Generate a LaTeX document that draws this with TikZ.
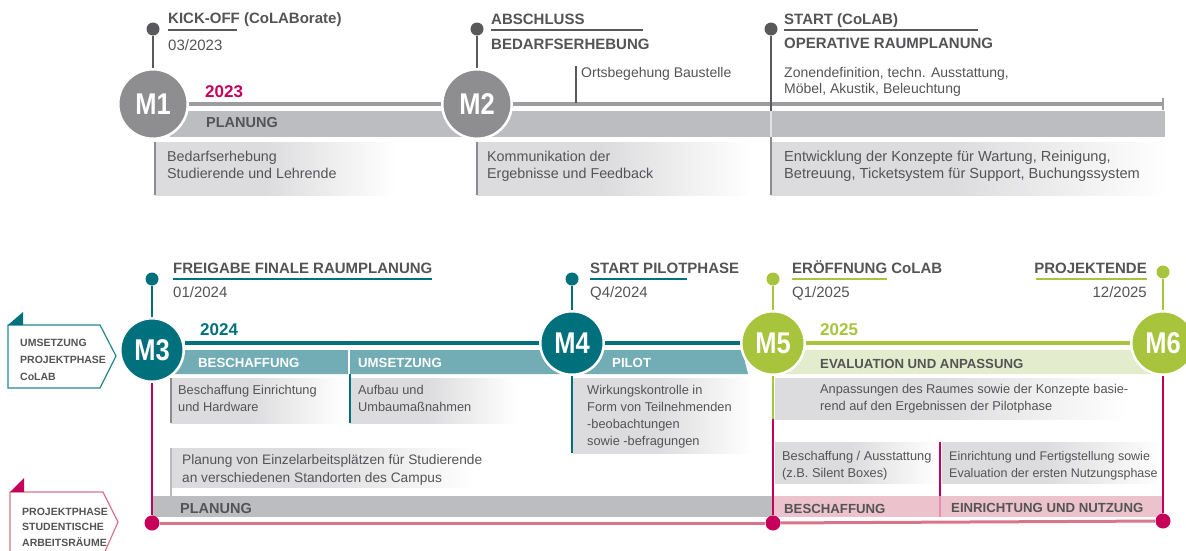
\documentclass[tikz,border=0pt]{standalone}
\usepackage{fontspec}
\setmainfont{Liberation Sans}
\newfontfamily\msfont[FakeStretch=0.85]{Liberation Sans}
\usepackage{tikz}
\usetikzlibrary{positioning}
\usetikzlibrary{calc}

\definecolor{txtgray}{HTML}{545456}
\definecolor{msgray}{HTML}{8E8E90}
\definecolor{linegray}{HTML}{9D9D9F}
\definecolor{bargray}{HTML}{BCBDC0}
\definecolor{boxgray}{HTML}{DCDCDE}
\definecolor{pingray}{HTML}{59595B}
\definecolor{rulegray}{HTML}{8C8C8E}
\definecolor{tealdark}{HTML}{00717C}
\definecolor{tealbar}{HTML}{72ADB6}
\definecolor{greenms}{HTML}{A7C43C}
\definecolor{greenbar}{HTML}{E3ECCC}
\definecolor{magms}{HTML}{C6005A}
\definecolor{pinkln}{HTML}{D8758A}
\definecolor{pinkbar}{HTML}{ECC2CC}

\pgfdeclarehorizontalshading{descfade}{100bp}{color(0bp)=(boxgray); color(25bp)=(boxgray); color(48bp)=(boxgray); color(75bp)=(white); color(100bp)=(white)}

\tikzstyle{milestone}=[circle,draw=white,line width=2.5pt,text=white,inner sep=0pt,font=\msfont\bfseries\fontsize{30}{30}\selectfont]
\tikzstyle{bigms}=[milestone,minimum size=69.5pt]
\tikzstyle{smallms}=[milestone,minimum size=63.5pt]
\tikzstyle{pindot}=[circle,inner sep=0pt,minimum size=13pt]
\tikzstyle{enddot}=[circle,inner sep=0pt,minimum size=15pt,fill=magms]
\tikzstyle{headtxt}=[anchor=base west,inner sep=0pt,text=txtgray,font=\bfseries\fontsize{15}{18}\selectfont]
\tikzstyle{datetxt}=[anchor=base west,inner sep=0pt,text=txtgray,font=\fontsize{15}{18}\selectfont]
% multi-line texts: the given point is the baseline of the last line
\tikzstyle{desctxt}=[anchor=base west,inner sep=0pt,align=left,text=txtgray,font=\fontsize{14.3}{17}\selectfont]
\tikzstyle{smalltxt}=[anchor=base west,inner sep=0pt,align=left,text=txtgray,font=\fontsize{12.8}{17}\selectfont]
\tikzstyle{yeartxt}=[anchor=base west,inner sep=0pt,font=\bfseries\fontsize{17}{20}\selectfont]
\tikzstyle{barlabel}=[anchor=base west,inner sep=0pt,text=txtgray,font=\bfseries\fontsize{13.2}{16}\selectfont]
\tikzstyle{bigbarlabel}=[anchor=base west,inner sep=0pt,text=txtgray,font=\bfseries\fontsize{14.5}{16}\selectfont]
\tikzstyle{sidelabel}=[anchor=base west,inner sep=0pt,align=left,text=txtgray,font=\bfseries\fontsize{10.5}{17}\selectfont]
\tikzstyle{tline}=[draw,linegray,line width=3.4pt]
\tikzstyle{pinline}=[draw,pingray,line width=2.6pt]
\tikzstyle{uline}=[draw,line width=1.6pt]
\tikzstyle{boxrule}=[draw,line width=2.5pt]

\begin{document}
\begin{tikzpicture}[x=1pt,y=-1pt]
    \useasboundingbox (0,0) rectangle (1186,550);

    %%% 2023 -- top timeline
    % bar and text boxes first
    \fill[bargray] (170,111) rectangle (1165,137);
    \shade[shading=descfade] (155,142) rectangle (395,195);
    \shade[shading=descfade] (477,142) rectangle (752,195);
    \shade[shading=descfade] (771,142) rectangle (1168,195);
    \draw[boxrule,rulegray] (155,142) -- (155,195);
    \draw[boxrule,rulegray] (477,142) -- (477,195);
    \draw[boxrule,rulegray] (771,137) -- (771,195);

    % milestones
    \node[bigms,fill=msgray] (M1) at (153,104) {M1};
    \node[bigms,fill=msgray] (M2) at (477,104) {M2};
    \coordinate (tEnd) at (1163,104);
    \draw[tline] (M1) -- (M2);
    \draw[tline] (M2) -- (tEnd);
    \draw[tline,line width=2.2pt] ([yshift=6pt]tEnd) -- ([yshift=-6pt]tEnd);

    % pins
    \foreach \pos/\name/\ms in {{(153,29)/k1/M1}, {(477,29)/k2/M2}}
        {\node[pindot,fill=pingray] (\name) at \pos {};
         \draw[pinline] (\name) -- (\ms);}
    \node[pindot,fill=pingray] (k3) at (771,29) {};
    \coordinate (k3end) at (771,111);
    \draw[pinline] (k3) -- (k3end);
    \draw[white!55!bargray,line width=2pt] (771,111) -- (771,137);
    \coordinate (o1) at (576,66);
    \coordinate (o2) at (576,103);
    \draw[pinline,line width=1.6pt] (o1) -- (o2);

    % labels
    \node[headtxt] (h1) at (168,23) {KICK-OFF (CoLABorate)};
    \draw[uline,pingray] (h1.base west) ++(0,7) -- ++(69,0);
    \node[datetxt] (d1) at (168,50) {03/2023};
    \node[headtxt] (h2) at (491,24) {ABSCHLUSS};
    \draw[uline,pingray] (h2.base west) ++(0,6) -- ++(152,0);
    \node[headtxt] (h2b) at (491,49) {BEDARFSERHEBUNG};
    \node[desctxt,font=\fontsize{14}{17}\selectfont] (t2) at (581,77) {Ortsbegehung Baustelle};
    \node[headtxt] (h3) at (784,24) {START (CoLAB)};
    \draw[uline,pingray] (h3.base west) ++(0,6) -- ++(194,0);
    \node[headtxt] (h3b) at (784,48) {OPERATIVE RAUMPLANUNG};
    \node[desctxt,font=\fontsize{14}{16}\selectfont] (t3) at (784,93) {Zonendefinition, techn. Ausstattung,\\Möbel, Akustik, Beleuchtung};

    \node[yeartxt,text=magms] (y1) at (205,97) {2023};
    \node[bigbarlabel] (p1) at (206,127) {PLANUNG};
    \node[desctxt] (b1) at (167,178) {Bedarfserhebung\\Studierende und Lehrende};
    \node[desctxt] (b2) at (487,178) {Kommunikation der\\Ergebnisse und Feedback};
    \node[desctxt,font=\fontsize{14.6}{17}\selectfont] (b3) at (784,178) {Entwicklung der Konzepte für Wartung, Reinigung,\\Betreuung, Ticketsystem für Support, Buchungssystem};

    %%% 2024/2025 -- bottom timeline
    % bars
    \fill[tealbar] (172,350) -- (742,350) -- (748,374) -- (172,374) -- cycle;
    \draw[white,line width=2.5pt] (349,350) -- (349,374);
    \fill[greenbar] (792,350) -- (1166,350) -- (1166,374) -- (782,374) -- cycle;
    \fill[bargray] (152,496) rectangle (773,517);
    \fill[pinkbar] (773,496) rectangle (1163,517);

    % text boxes
    \shade[shading=descfade] (171,378) rectangle (343,423);
    \shade[shading=descfade] (350,378) rectangle (517,423);
    \shade[shading=descfade] (573,378) rectangle (752,453);
    \shade[shading=descfade] (171,448) rectangle (475,487);
    \shade[shading=descfade] (775,378) rectangle (1127,419);
    \shade[shading=descfade] (775,442) rectangle (938,483);
    \shade[shading=descfade] (942,442) rectangle (1163,483);
    \draw[boxrule,rulegray] (171,378) -- (171,423);
    \draw[boxrule,tealdark] (350,374) -- (350,423);
    \draw[boxrule,rulegray!60] (171,448) -- (171,496);
    \draw[boxrule,magms] (940,442) -- (940,496);
    \draw[magms!25!pinkbar,line width=2pt] (940,496) -- (940,517);

    % milestones
    \node[smallms,fill=tealdark] (M3) at (152,350) {M3};
    \node[smallms,fill=tealdark] (M4) at (572,343) {M4};
    \node[smallms,fill=greenms] (M5) at (773,343) {M5};
    \node[smallms,fill=greenms] (M6) at (1163,343) {M6};

    \draw[line width=3.3pt,tealdark] (M3.east |- M4) -- (M4);
    \draw[line width=3.3pt,tealdark] (M4) -- (M5);
    \draw[line width=3.3pt,greenms] (M5) -- (M6);

    % pins
    \foreach \pos/\name/\ms/\col in {{(152,279)/k4/M3/tealdark}, {(572,279)/k5/M4/tealdark}, {(773,279)/k6/M5/greenms}, {(1163,272)/k7/M6/greenms}}
        {\node[pindot,fill=\col] (\name) at \pos {};
         \draw[line width=2.6pt,\col] (\name) -- (\ms);}

    % vertical lines down to the end dots
    \node[enddot] (e3) at (152,523) {};
    \node[enddot] (e5) at (773,523) {};
    \node[enddot] (e6) at (1163,521) {};
    \coordinate (w4) at (572,453);
    \coordinate (s5) at (773,419);
    \draw[line width=2.5pt,tealdark] (M4) -- (w4);
    \draw[line width=2.5pt,magms] (M3) -- (e3);
    \draw[line width=2.5pt,greenms] (M5) -- (s5);
    \draw[line width=2.5pt,magms] (s5) -- (e5);
    \draw[line width=2.5pt,magms] (M6) -- (e6);
    \draw[line width=3pt,pinkln] (e3) -- (e5);
    \draw[line width=3pt,pinkln] (e5) -- (e6);

    % labels
    \node[headtxt] (h4) at (173,273) {FREIGABE FINALE RAUMPLANUNG};
    \draw[uline,tealdark,line width=2pt] (h4.base west) ++(0,6) -- ++(259,0);
    \node[datetxt] (d4) at (173,297) {01/2024};
    \node[headtxt] (h5) at (590,273) {START PILOTPHASE};
    \draw[uline,tealdark,line width=2pt] (h5.base west) ++(0,6) -- ++(97,0);
    \node[datetxt] (d5) at (590,297) {Q4/2024};
    \node[headtxt] (h6) at (792,273) {ERÖFFNUNG CoLAB};
    \draw[uline,greenms,line width=2pt] (h6.base west) ++(0,6) -- ++(95,0);
    \node[datetxt] (d6) at (792,297) {Q1/2025};
    \node[headtxt,anchor=base east] (h7) at (1147,273) {PROJEKTENDE};
    \draw[uline,greenms,line width=2pt] (h7.base east) ++(0,6) -- ++(-111,0);
    \node[datetxt,anchor=base east] (d7) at (1147,297) {12/2025};

    \node[yeartxt,text=tealdark] (y2) at (200,335) {2024};
    \node[yeartxt,text=greenms] (y3) at (820,335) {2025};

    \node[barlabel,text=white] (q1) at (198,367) {BESCHAFFUNG};
    \node[barlabel,text=white] (q2) at (358,367) {UMSETZUNG};
    \node[barlabel,text=white] (q3) at (612,367) {PILOT};
    \node[barlabel] (q4) at (820,368) {EVALUATION UND ANPASSUNG};
    \node[bigbarlabel] (q5) at (180,513) {PLANUNG};
    \node[barlabel] (q6) at (784,513) {BESCHAFFUNG};
    \node[barlabel] (q7) at (951,512) {EINRICHTUNG UND NUTZUNG};

    \node[smalltxt] (c1) at (178,411) {Beschaffung Einrichtung\\und Hardware};
    \node[smalltxt] (c2) at (358,411) {Aufbau und\\Umbaumaßnahmen};
    \node[smalltxt] (c3) at (587,445) {Wirkungskontrolle in\\Form von Teilnehmenden\\-beobachtungen\\sowie -befragungen};
    \node[smalltxt,font=\fontsize{13.7}{18}\selectfont] (c4) at (182,482) {Planung von Einzelarbeitsplätzen für Studierende\\an verschiedenen Standorten des Campus};
    \node[smalltxt] (c5) at (820,410) {Anpassungen des Raumes sowie der Konzepte basie-\\rend auf den Ergebnissen der Pilotphase};
    \node[smalltxt] (c6) at (782,477) {Beschaffung / Ausstattung\\(z.B. Silent Boxes)};
    \node[smalltxt,font=\fontsize{12.5}{17}\selectfont] (c7) at (949,477) {Einrichtung und Fertigstellung sowie\\Evaluation der ersten Nutzungsphase};

    %%% side labels
    \draw[tealdark!85,line width=1.2pt,fill=white] (8,325) -- (100,325) -- (116,356) -- (100,388) -- (8,388) -- cycle;
    \fill[tealdark] (8,325) -- (23,312) -- (23,325) -- cycle;
    \node[sidelabel] (s1) at (20,380) {UMSETZUNG\\PROJEKTPHASE\\CoLAB};
    \draw[pinkln,line width=1.2pt,fill=white] (10,556) -- (10,492) -- (103,492) -- (118,522) -- (103,556);
    \fill[magms] (10,492) -- (24,478) -- (24,492) -- cycle;
    \node[sidelabel,font=\bfseries\fontsize{10.5}{15.5}\selectfont] (s2) at (22,546) {PROJEKTPHASE\\STUDENTISCHE\\ARBEITSRÄUME};
\end{tikzpicture}
\end{document}
